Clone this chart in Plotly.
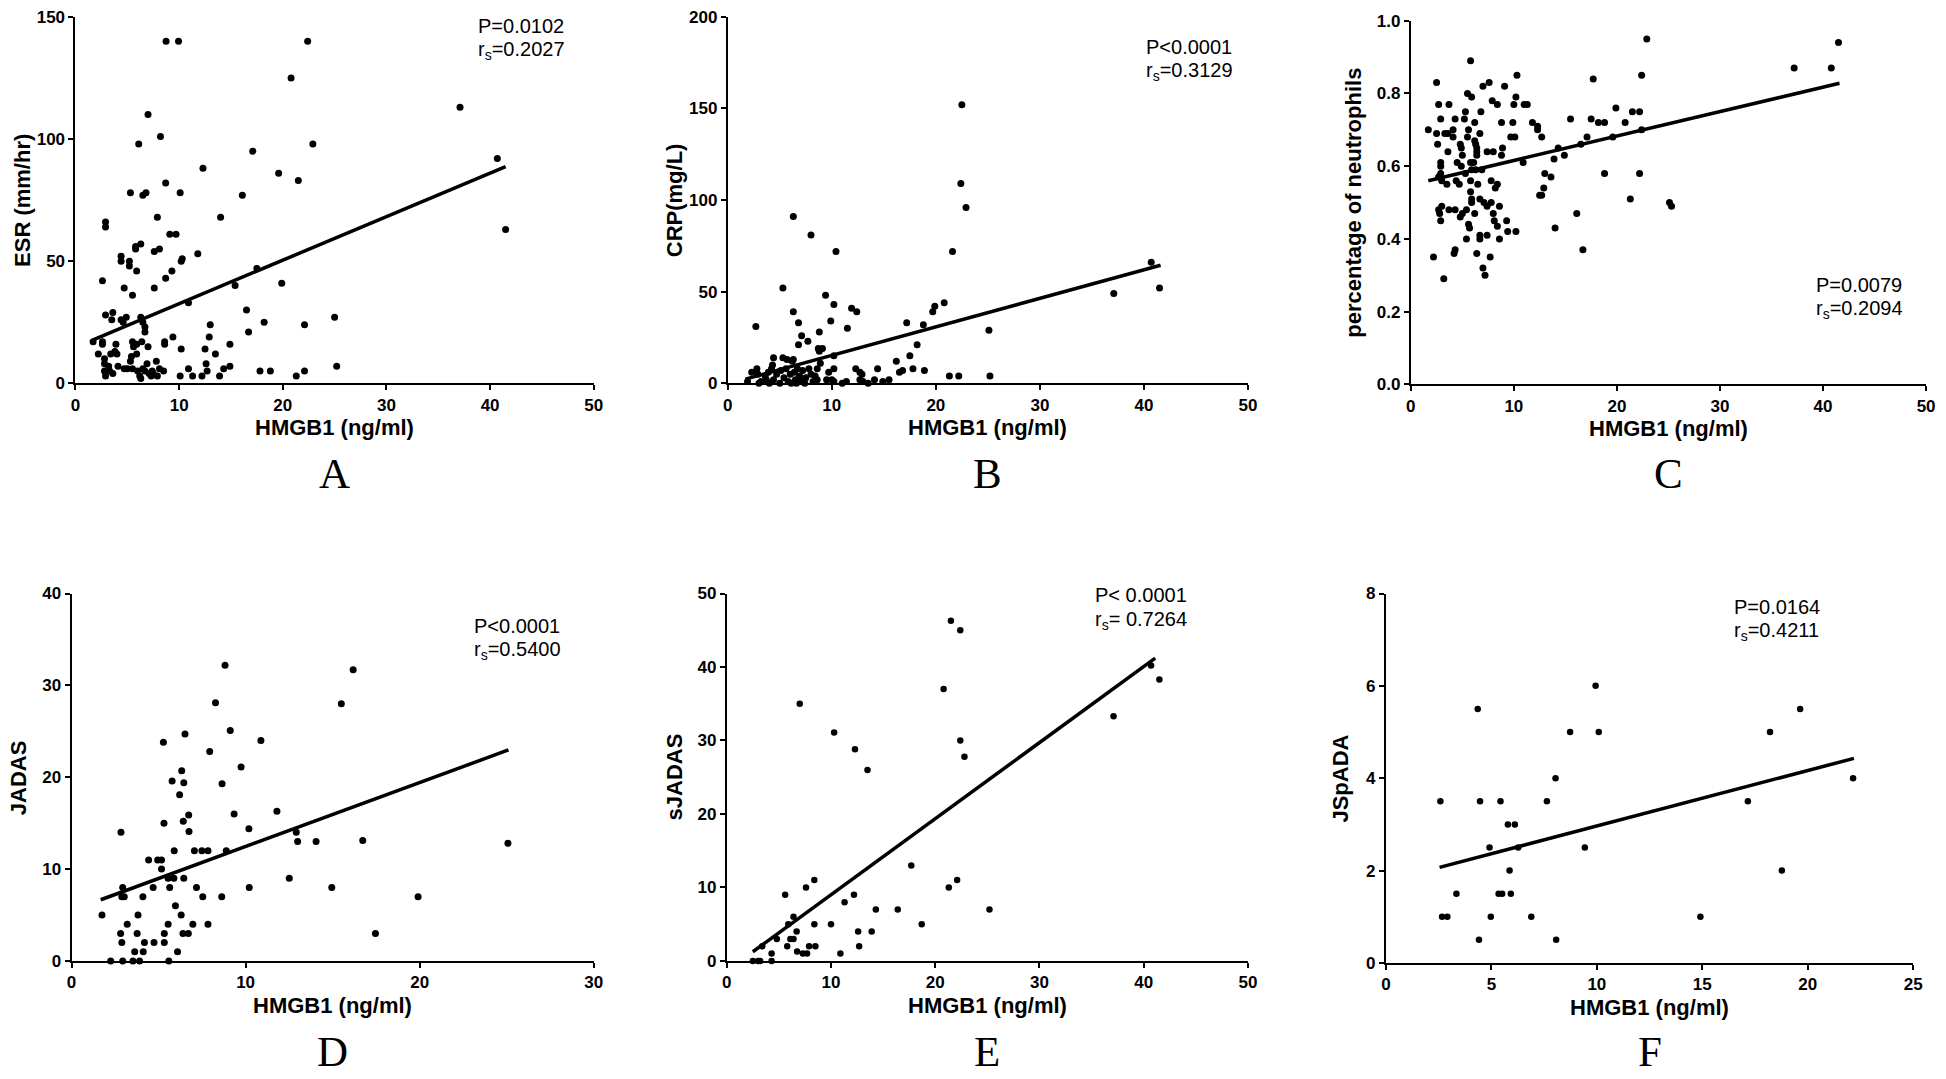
import plotly.graph_objects as go

# ---------------- data ----------------
# Panel A: ESR vs HMGB1
A_x = [8.74, 9.94, 22.4, 20.8, 37.1, 7.0, 8.2, 6.1, 22.9, 17.1,
       40.7, 12.3, 19.6, 21.5, 8.7, 5.3, 6.5, 6.8, 10.1, 16.1,
       7.9, 14.0, 2.9, 2.9, 41.5, 9.1, 9.7, 6.3, 5.8, 5.8,
       8.1, 7.6, 11.8, 4.4, 4.4, 5.2, 5.2, 10.3, 10.2, 17.5,
       5.9, 9.3, 8.7, 2.6, 19.9, 15.4, 4.7, 7.6, 5.5, 10.9,
       16.5, 3.6, 2.9, 3.5, 4.4, 4.9, 4.6, 6.3, 6.5, 6.7,
       25.0, 18.2, 13.0, 22.1, 6.7, 16.7, 9.4, 12.9, 1.7, 2.6,
       2.6, 3.9, 5.5, 5.9, 5.6, 6.4, 7.0, 8.6, 8.6, 14.9,
       10.2, 12.5, 2.2, 3.4, 3.8, 4.0, 5.4, 5.9, 13.5, 2.8,
       5.3, 2.8, 7.8, 6.9, 12.6, 25.2, 14.9, 3.2, 4.1, 4.7,
       5.5, 6.5, 2.8, 3.3, 5.0, 6.0, 7.4, 8.1, 8.5, 10.9,
       14.3, 12.7, 17.8, 18.8, 22.1, 3.6, 2.9, 6.2, 6.3, 7.1,
       7.3, 7.9, 10.1, 11.3, 12.2, 13.9, 21.3, 6.7, 7.5]
A_y = [140, 140, 140, 125, 113, 110, 101, 98, 98, 95,
       92, 88, 86, 83, 82, 78, 77, 78, 78, 77,
       68, 68, 66, 64, 63, 61, 61, 57, 56, 55,
       55, 54, 53, 52, 50, 50, 48, 51, 50, 47,
       46, 46, 43, 42, 41, 40, 39, 39, 36, 33,
       30, 29, 28, 26, 26, 27, 25, 27, 25, 23,
       27, 25, 24, 24, 21, 21, 19, 19, 17, 17,
       16, 16, 17, 16, 15, 17, 15, 17, 16, 16,
       14, 14, 12, 12, 13, 12, 11, 12, 12, 10,
       9, 8, 9, 8, 8, 7, 7, 7, 7, 6,
       6, 6, 5, 5, 6, 5, 5, 6, 5, 6,
       6, 5, 5, 5, 5, 4, 3, 3, 2, 4,
       3, 3, 3, 3, 3, 3, 3, 5, 4]
A_fit_x = [1.7, 41.5]
A_fit_y = [17.8, 88.7]

# Panel B: CRP vs HMGB1
B_x = [22.5, 22.4, 22.9, 6.3, 8.0, 10.4, 21.6, 40.7, 5.3, 41.5,
       37.1, 9.4, 20.8, 10.2, 19.9, 19.7, 11.9, 12.4, 6.3, 9.9,
       6.8, 17.2, 18.8, 2.7, 11.5, 25.1, 8.8, 7.1, 7.7, 6.8,
       18.2, 8.7, 9.1, 8.8, 17.5, 10.2, 4.4, 5.3, 5.7, 6.3,
       6.2, 16.2, 8.9, 4.3, 16.8, 16.5, 17.8, 18.9, 14.4, 12.3,
       10.2, 12.7, 12.9, 21.3, 22.2, 25.2, 9.7, 8.6, 7.8, 1.9,
       2.3, 2.8, 2.9, 3.2, 3.0, 3.6, 3.9, 4.2, 4.4, 4.7,
       5.0, 5.1, 5.4, 5.6, 5.8, 6.0, 6.1, 6.4, 6.5, 6.6,
       6.7, 6.9, 7.1, 7.2, 7.4, 7.5, 8.0, 8.2, 8.4, 8.6,
       9.5, 10.0, 10.2, 11.0, 11.4, 12.7, 13.0, 13.5, 14.1, 14.9,
       15.5, 3.7, 4.0]
B_y = [152, 109, 96, 91, 81, 72, 72, 66, 52, 52,
       49, 48, 44, 43, 42, 39, 41, 39, 39, 34,
       33, 33, 32, 31, 30, 29, 28, 26, 23, 21,
       21, 19, 19, 17.5, 15, 15, 14, 14, 13, 13,
       12, 12, 11, 10, 7, 6, 8, 7, 8, 8,
       8, 6, 5, 4, 4, 4, 6, 8, 8, 1,
       6, 8, 5, 1, 0, 4, 6, 8, 2, 5,
       0, 7, 3, 8, 1, 5, 0, 6, 2, 0,
       8, 4, 1, 7, 0, 3, 5, 1, 4, 2,
       2, 2, 1, 0, 1, 2, 1, 0, 2, 1,
       2, 2, 0]
B_fit_x = [1.7, 41.6]
B_fit_y = [2.3, 64.4]

# Panel C: percentage of neutrophils vs HMGB1
C_x = [22.9, 41.5, 5.8, 37.2, 40.8, 10.3, 22.4, 2.5, 7.6, 17.7,
       7.0, 9.1, 5.5, 5.9, 10.2, 7.9, 2.7, 3.7, 8.4, 10.0,
       11.0, 11.3, 19.9, 5.3, 6.8, 21.5, 22.2, 2.9, 4.3, 5.2,
       15.5, 17.5, 8.8, 9.9, 6.2, 11.8, 18.2, 18.8, 20.8, 12.3,
       1.7, 4.1, 5.6, 12.3, 22.4, 2.5, 3.3, 3.6, 6.7, 4.1,
       5.5, 9.7, 10.1, 12.7, 17.1, 19.6, 6.2, 6.3, 2.6, 4.8,
       6.4, 8.9, 14.3, 16.5, 4.9, 3.6, 6.4, 7.4, 8.0, 5.0,
       6.4, 8.8, 14.9, 13.9, 2.9, 4.5, 5.8, 6.1, 10.9, 2.9,
       4.9, 5.9, 6.3, 6.9, 5.3, 2.9, 13.0, 18.8, 22.2, 2.7,
       13.6, 3.0, 4.4, 5.8, 7.8, 3.5, 4.7, 6.5, 8.4, 12.9,
       8.2, 5.8, 12.5, 12.7, 5.9, 6.7, 21.3, 5.9, 7.1, 7.8,
       25.1, 25.3, 3.0, 4.3, 2.7, 3.7, 5.4, 7.4, 8.6, 2.8,
       5.0, 6.2, 8.0, 16.1, 4.8, 2.9, 8.1, 9.3, 5.6, 8.4,
       5.7, 14.0, 9.4, 10.2, 6.7, 7.4, 5.4, 6.7, 8.6, 4.3,
       16.7, 4.2, 6.4, 2.2, 7.7, 7.0, 7.2, 3.2]
C_y = [0.95, 0.94, 0.89, 0.87, 0.87, 0.85, 0.85, 0.83, 0.83, 0.84,
       0.82, 0.82, 0.80, 0.79, 0.79, 0.78, 0.77, 0.77, 0.77, 0.77,
       0.77, 0.77, 0.76, 0.75, 0.75, 0.75, 0.75, 0.73, 0.73, 0.73,
       0.73, 0.73, 0.72, 0.72, 0.72, 0.72, 0.72, 0.72, 0.72, 0.71,
       0.70, 0.70, 0.70, 0.70, 0.70, 0.69, 0.69, 0.69, 0.69, 0.68,
       0.68, 0.68, 0.68, 0.68, 0.68, 0.68, 0.67, 0.66, 0.66, 0.66,
       0.65, 0.65, 0.65, 0.66, 0.65, 0.64, 0.64, 0.64, 0.64, 0.63,
       0.63, 0.63, 0.63, 0.62, 0.61, 0.61, 0.61, 0.61, 0.61, 0.60,
       0.60, 0.59, 0.59, 0.59, 0.58, 0.58, 0.58, 0.58, 0.58, 0.57,
       0.57, 0.56, 0.56, 0.56, 0.56, 0.55, 0.55, 0.55, 0.55, 0.54,
       0.54, 0.53, 0.52, 0.52, 0.51, 0.51, 0.51, 0.50, 0.50, 0.50,
       0.50, 0.49, 0.49, 0.48, 0.48, 0.48, 0.48, 0.49, 0.49, 0.47,
       0.47, 0.47, 0.47, 0.47, 0.46, 0.45, 0.45, 0.45, 0.44, 0.435,
       0.43, 0.43, 0.42, 0.42, 0.41, 0.41, 0.40, 0.40, 0.40, 0.37,
       0.37, 0.36, 0.36, 0.35, 0.35, 0.32, 0.30, 0.29]
C_fit_x = [1.7, 41.6]
C_fit_y = [0.560, 0.828]

# Panel D: JADAS vs HMGB1
D_x = [8.82, 16.18, 8.27, 15.50, 9.12, 6.52, 10.88, 5.28, 7.94, 9.74,
       6.33, 5.78, 6.45, 8.65, 6.21, 11.80, 9.34, 6.73, 6.42, 5.31,
       10.19, 6.75, 2.84, 12.91, 12.99, 14.05, 16.73, 25.07, 5.90, 7.06,
       7.49, 7.84, 8.89, 4.43, 4.95, 5.17, 5.17, 5.55, 5.88, 6.45,
       12.51, 2.94, 4.69, 5.64, 7.18, 10.21, 14.95, 2.89, 3.03, 4.10,
       7.54, 8.63, 19.91, 5.97, 1.75, 3.82, 6.30, 3.20, 5.55, 6.97,
       7.84, 2.82, 3.77, 5.33, 6.40, 6.71, 17.46, 2.89, 4.19, 4.74,
       5.33, 3.63, 4.12, 6.09, 2.25, 2.94, 3.53, 3.91, 5.59]
D_y = [32.2, 31.7, 28.1, 28.0, 25.1, 24.7, 24.0, 23.8, 22.8, 21.1,
       20.7, 19.6, 19.4, 19.3, 18.1, 16.3, 16.0, 15.9, 15.2, 15.0,
       14.4, 14.1, 14.0, 14.0, 13.0, 13.0, 13.1, 12.8, 12.0, 12.0,
       12.0, 12.0, 12.0, 11.0, 11.0, 11.0, 10.0, 9.0, 9.0, 9.0,
       9.0, 8.0, 8.0, 8.0, 8.0, 8.0, 8.0, 7.0, 7.0, 7.0,
       7.0, 7.0, 7.0, 6.0, 5.0, 5.0, 5.0, 4.0, 4.0, 4.0,
       4.0, 3.0, 3.0, 3.0, 3.0, 3.0, 3.0, 2.0, 2.0, 2.0,
       2.0, 1.0, 1.0, 1.0, 0, 0, 0, 0, 0]
D_fit_x = [1.68, 25.1]
D_fit_y = [6.66, 22.97]

# Panel E: sJADAS vs HMGB1
E_x = [21.5, 22.4, 40.7, 41.5, 20.8, 7.0, 37.1, 10.3, 22.4, 12.3,
       22.8, 13.5, 17.7, 8.4, 22.1, 7.6, 21.3, 5.6, 12.2, 11.3,
       14.3, 16.4, 25.2, 6.4, 5.9, 8.4, 10.0, 18.7, 6.7, 12.6,
       13.9, 4.8, 6.1, 6.4, 3.4, 5.8, 7.9, 8.5, 12.7, 6.75,
       4.3, 7.3, 7.7, 10.9, 2.5, 3.0, 3.2, 4.3]
E_y = [46.3, 45.0, 40.2, 38.3, 37.0, 35.0, 33.3, 31.1, 30.0, 28.8,
       27.8, 26.0, 13.0, 11.0, 11.0, 10.0, 10.0, 9.0, 9.0, 8.0,
       7.0, 7.0, 7.0, 6.0, 5.0, 5.0, 5.0, 5.0, 4.0, 4.0,
       4.0, 3.0, 3.0, 3.0, 2.0, 2.0, 2.0, 2.0, 2.0, 1.3,
       1.0, 1.0, 1.0, 1.0, 0, 0, 0, 0]
E_fit_x = [2.5, 41.1]
E_fit_y = [1.25, 41.2]

# Panel F: JSpADA vs HMGB1
F_x = [9.94, 4.35, 19.64, 8.73, 10.09, 18.21, 8.04, 22.15, 2.58, 4.46,
       5.43, 7.63, 17.16, 5.78, 6.11, 4.91, 6.27, 9.43, 5.86, 18.77,
       3.34, 5.34, 5.51, 5.92, 2.66, 2.91, 4.97, 6.89, 14.91, 4.41,
       8.07]
F_y = [6.0, 5.5, 5.5, 5.0, 5.0, 5.0, 4.0, 4.0, 3.5, 3.5,
       3.5, 3.5, 3.5, 3.0, 3.0, 2.5, 2.5, 2.5, 2.0, 2.0,
       1.5, 1.5, 1.5, 1.5, 1.0, 1.0, 1.0, 1.0, 1.0, 0.5,
       0.5]
F_fit_x = [2.54, 22.19]
F_fit_y = [2.07, 4.43]

y_titles = ["ESR (mm/hr)", "CRP(mg/L)", "percentage of neutrophils", "JADAS", "sJADAS", "JSpADA"]
x_title = "HMGB1 (ng/ml)"
panel_letters = ["A", "B", "C", "D", "E", "F"]
p_texts = ["P=0.0102", "P<0.0001", "P=0.0079", "P<0.0001", "P< 0.0001", "P=0.0164"]
r_texts = ["0.2027", "0.3129", "0.2094", "0.5400", " 0.7264", "0.4211"]
x_max = [50, 50, 50, 30, 50, 25]
x_dtick = [10, 10, 10, 10, 10, 5]
y_max = [150, 200, 1.0, 40, 50, 8]
y_dtick = [50, 50, 0.2, 10, 10, 2]

# ---------------- layout geometry (pixels) ----------------
W, H = 1946, 1079
# (left, right, top, bottom) of each plot area
boxes = [(71, 593, 8, 381), (728, 1252, 8, 381), (1416, 1935, 12, 382),
         (67, 593, 595, 969), (727, 1252, 595, 969), (1391, 1922, 595, 971)]
ytitle_x = [17, 674, 1358, 13, 674, 1345]
ptext_pos = [(474, 17), (1147, 39), (1822, 281), (470, 628), (1096, 597), (1740, 609)]
marker_sizes = [7, 7, 7, 7, 6.5, 6.5]

xs = [A_x, B_x, C_x, D_x, E_x, F_x]
ys = [A_y, B_y, C_y, D_y, E_y, F_y]
fxs = [A_fit_x, B_fit_x, C_fit_x, D_fit_x, E_fit_x, F_fit_x]
fys = [A_fit_y, B_fit_y, C_fit_y, D_fit_y, E_fit_y, F_fit_y]


def fx(p):
    return p / W


def fy(p):
    return 1 - p / H


fig = go.Figure()
layout = dict(
    width=W, height=H, margin=dict(l=0, r=0, t=0, b=0), autosize=False,
    paper_bgcolor="white", plot_bgcolor="white", showlegend=False,
    font=dict(family="Liberation Sans, Arial, sans-serif", color="black"),
)
annotations = []
tick_font = dict(family="Liberation Sans, Arial, sans-serif", size=17, color="black", weight="bold")
title_font = dict(family="Liberation Sans, Arial, sans-serif", size=22, color="black", weight="bold")
stat_font = dict(family="Liberation Sans, Arial, sans-serif", size=20, color="black")

for i in range(6):
    n = "" if i == 0 else str(i + 1)
    l, r, t, b = boxes[i]
    fig.add_trace(go.Scatter(x=xs[i], y=ys[i], mode="markers", xaxis="x" + n, yaxis="y" + n,
                             marker=dict(color="black", size=marker_sizes[i]),
                             cliponaxis=False, hoverinfo="x+y"))
    fig.add_trace(go.Scatter(x=fxs[i], y=fys[i], mode="lines", xaxis="x" + n, yaxis="y" + n,
                             line=dict(color="black", width=3.5), cliponaxis=False))
    common = dict(showgrid=False, zeroline=False, showline=True, linecolor="black", linewidth=2,
                  ticks="outside", ticklen=5, tickwidth=2, tickcolor="black", tickfont=tick_font)
    layout["xaxis" + n] = dict(domain=[fx(l), fx(r)], range=[0, x_max[i]], dtick=x_dtick[i], tick0=0,
                               anchor="y" + n, **common)
    yfmt = ".1f" if i == 2 else ""
    layout["yaxis" + n] = dict(domain=[fy(b), fy(t)], range=[0, y_max[i]], dtick=y_dtick[i], tick0=0,
                               anchor="x" + n, tickformat=yfmt, **common)
    cx = (l + r) / 2
    # x-axis title
    annotations.append(dict(x=fx(cx), y=fy(b + 45), xref="paper", yref="paper", text=x_title,
                            showarrow=False, xanchor="center", yanchor="middle", font=title_font))
    # y-axis title
    annotations.append(dict(x=fx(ytitle_x[i]), y=fy((t + b) / 2), xref="paper", yref="paper",
                            text=y_titles[i], textangle=-90, showarrow=False,
                            xanchor="center", yanchor="middle", font=title_font))
    # statistics
    px_, py_ = ptext_pos[i]
    annotations.append(dict(x=fx(px_), y=fy(py_), xref="paper", yref="paper", text=p_texts[i],
                            showarrow=False, xanchor="left", yanchor="middle", font=stat_font))
    annotations.append(dict(x=fx(px_), y=fy(py_ + 25), xref="paper", yref="paper",
                            text="r<sub>s</sub>=" + r_texts[i],
                            showarrow=False, xanchor="left", yanchor="middle", font=stat_font))
    # panel letter
    ly = 473 if i < 3 else 1061
    annotations.append(dict(x=fx(cx), y=fy(ly), xref="paper", yref="paper", text=panel_letters[i],
                            showarrow=False, xanchor="center", yanchor="middle",
                            font=dict(family="Liberation Serif, Times New Roman, serif", size=43,
                                      color="black")))

layout["annotations"] = annotations
fig.update_layout(**layout)
fig.write_html(
    "out.html",
    config={"displayModeBar": False},
    post_script="document.body.style.margin='0px';"
                "document.body.style.overflow='hidden';"
                "document.documentElement.style.overflow='hidden';",
)
